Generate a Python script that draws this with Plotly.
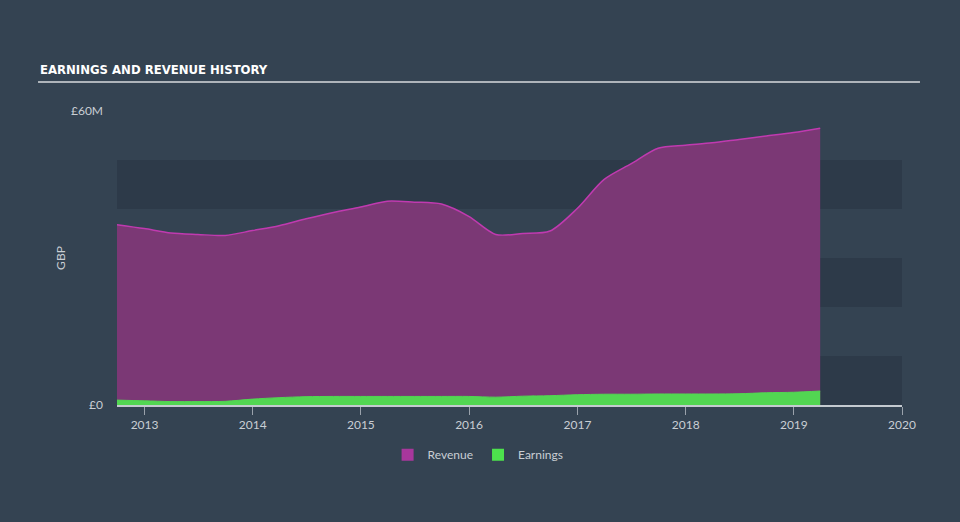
import plotly.graph_objects as go

dates = ["2012-09-30", "2012-12-31", "2013-03-31", "2013-06-30", "2013-09-30",
         "2013-12-31", "2014-03-31", "2014-06-30", "2014-09-30", "2014-12-31",
         "2015-03-31", "2015-06-30", "2015-09-30", "2015-12-31", "2016-03-31",
         "2016-06-30", "2016-09-30", "2016-12-31", "2017-03-31", "2017-06-30",
         "2017-09-30", "2017-12-31", "2018-03-31", "2018-06-30", "2018-09-30",
         "2018-12-31", "2019-03-31"]
revenue = [36.8, 36.0, 35.1, 34.8, 34.6, 35.6, 36.6, 38.0, 39.3, 40.4,
           41.6, 41.4, 41.0, 38.5, 34.8, 35.0, 35.5, 40.1, 46.0, 49.2,
           52.4, 53.0, 53.5, 54.2, 54.9, 55.6, 56.5]
earnings = [1.0, 0.85, 0.7, 0.7, 0.75, 1.2, 1.5, 1.7, 1.75, 1.75,
            1.75, 1.75, 1.75, 1.75, 1.6, 1.8, 1.9, 2.1, 2.2, 2.2,
            2.25, 2.25, 2.25, 2.3, 2.5, 2.6, 2.85]
year_ticks = ["2013-01-01", "2014-01-01", "2015-01-01", "2016-01-01", "2017-01-01",
              "2018-01-01", "2019-01-01", "2020-01-01"]
year_labels = ["2013", "2014", "2015", "2016", "2017", "2018", "2019", "2020"]
y_ticks = [0, 60]
y_labels = ["£0", "£60M"]
bands = [(0, 10), (20, 30), (40, 50)]

BG = "#344352"
BAND = "#2d3a49"
TXT = "#c9ced4"
FONT = "Lato"

fig = go.Figure()
fig.add_trace(go.Scatter(
    x=dates, y=revenue, name="Revenue", mode="lines", showlegend=False,
    line=dict(color="#c03ab0", width=1.5, shape="spline", smoothing=0.8),
    fill="tozeroy", fillcolor="#7b3875"))
fig.add_trace(go.Scatter(
    x=dates, y=earnings, name="Earnings", mode="lines", showlegend=False,
    line=dict(color="#52d652", width=1, shape="spline", smoothing=0.8),
    fill="tozeroy", fillcolor="#52d652"))
# legend-only entries with square swatches
fig.add_trace(go.Bar(x=[None], y=[None], name="Revenue",
                     marker=dict(color="#a8379c", line=dict(width=0))))
fig.add_trace(go.Bar(x=[None], y=[None], name="Earnings",
                     marker=dict(color="#4de24d", line=dict(width=0))))

shapes = []
for lo, hi in bands:
    shapes.append(dict(type="rect", xref="paper", yref="y", x0=0, x1=1, y0=lo, y1=hi,
                       fillcolor=BAND, line=dict(width=0), layer="below"))
shapes.append(dict(type="line", xref="paper", yref="paper",
                   x0=-0.1006, x1=1.0229, y0=1.0985, y1=1.0985,
                   line=dict(color="#aeb4ba", width=2)))

fig.update_layout(
    width=960, height=522,
    paper_bgcolor=BG, plot_bgcolor=BG,
    margin=dict(l=117, r=58, t=111, b=116.5),
    shapes=shapes,
    showlegend=True,
    legend=dict(orientation="h", x=0.46, xanchor="center", y=-0.12, yanchor="top",
                font=dict(family=FONT, size=12, color=TXT),
                traceorder="normal"),
    annotations=[dict(text="<b>EARNINGS AND REVENUE HISTORY</b>", xref="paper", yref="paper",
                      x=-0.1006, y=1.11, xanchor="left", yanchor="bottom", showarrow=False,
                      font=dict(family="DejaVu Sans Condensed", size=13, color="#ffffff"))],
    xaxis=dict(type="date", range=["2012-09-30", "2020-01-01"],
               tickvals=year_ticks, ticktext=year_labels,
               showgrid=False, zeroline=False,
               showline=True, linecolor="#c4cad0", linewidth=1.5,
               ticks="outside", ticklen=8, tickcolor="#9aa2ab", tickwidth=1,
               tickfont=dict(family=FONT, size=12, color=TXT)),
    yaxis=dict(range=[0, 60], tickvals=y_ticks, ticktext=y_labels,
               showgrid=False, zeroline=False, showline=False,
               ticks="", ticklabelstandoff=13,
               tickfont=dict(family=FONT, size=12, color=TXT),
               title=dict(text="GBP", font=dict(family=FONT, size=12, color=TXT), standoff=2)),
)

fig.write_html("out.html")
